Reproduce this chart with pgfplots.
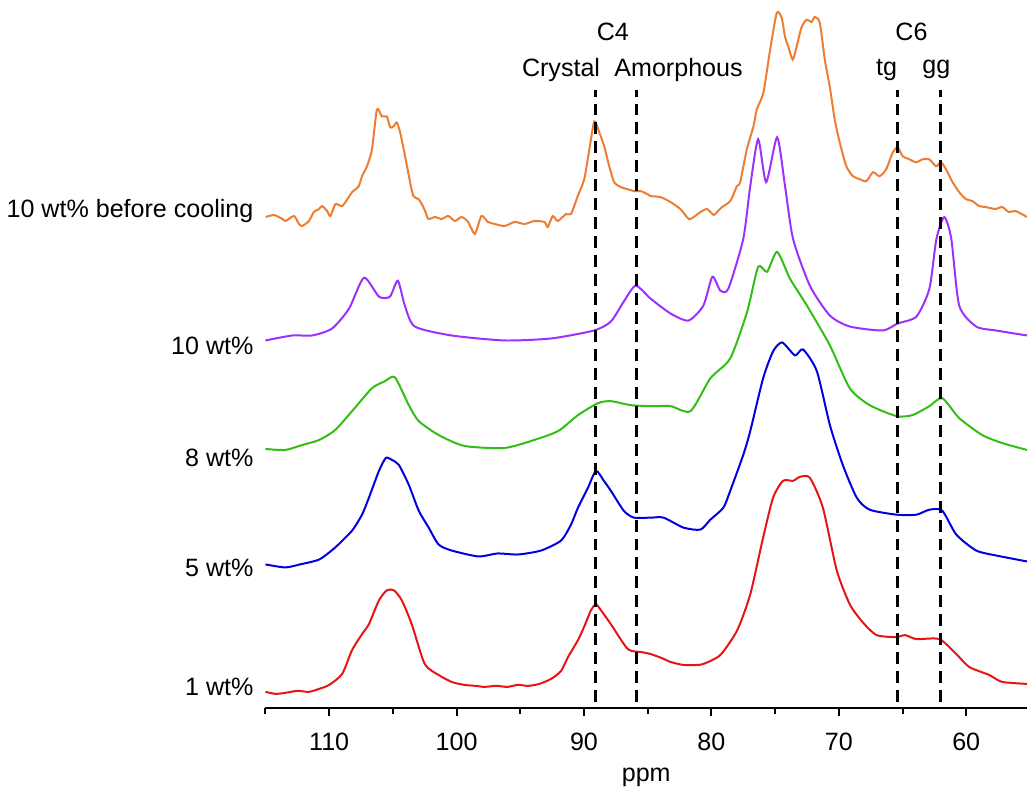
\documentclass[border=0pt]{standalone}
\usepackage{fontspec}
\setmainfont{Liberation Sans}
\usepackage{pgfplots}
\pgfplotsset{compat=1.18}

\definecolor{sorange}{RGB}{237,125,49}
\definecolor{spurple}{RGB}{155,48,255}
\definecolor{sgreen}{RGB}{50,190,20}
\definecolor{sblue}{RGB}{0,0,225}
\definecolor{sred}{RGB}{230,20,20}

\begin{document}
\begin{tikzpicture}[font=\fontsize{12.6}{15}\selectfont]
  \begin{axis}[
      scale only axis,
      width=382.5pt,height=355.5pt,
      x dir=reverse,
      xmin=55.23,xmax=115,
      ymin=78,ymax=789,
      axis x line*=bottom,
      axis y line=none,
      axis line style={line width=1pt},
      clip=false,
      xtick={60,70,...,110},
      minor xtick={65,75,...,115},
      tick align=outside,
      major tick length=4pt,
      minor tick length=3pt,
      every tick/.style={black,line width=1pt},
      xticklabel style={yshift=-5pt},
      /pgf/number format/assume math mode=true,
      xlabel={ppm},
      xlabel style={yshift=-2pt},
      every axis plot/.append style={line width=1pt,smooth,tension=0.4},
    ]
    % 1 wt%
    \addplot[sred] table {
115.00 94
114.2 92
113.44 93
112.5 95
111.6 94
110.78 97
110.00 101
108.98 112
108.20 136
107.42 152
106.88 162
106.09 186
105.47 196
104.92 196
104.30 186
103.52 162
102.50 122
101.41 111
100.39 104
99.4 101
98.5 100
97.81 99
96.9 100
96.0 99
95.2 101
94.38 100
93.5 102
92.58 107
91.80 115
91.25 129
90.47 146
90.00 159
89.45 176
89.06 182
88.67 176
87.89 162
86.56 137
85.5 134
84.77 132
83.9 128
83.20 124
82.19 121
81.2 121
80.63 122
79.30 131
77.97 156
76.95 192
75.94 249
75.16 289
74.38 306
73.59 306
73.05 310
72.27 309
71.25 279
70.16 216
69.14 182
68.13 164
67.03 151
65.47 149
64.8 151
63.91 147
62.11 147
60.78 132
59.77 119
58.20 111
57.19 104
55.23 102
    };
    % 5 wt%
    \addplot[sblue] table {
115.00 222
113.44 219
112.3 222
110.78 227
109.53 239
108.20 256
107.42 272
106.88 289
106.09 316
105.55 329
105.08 327
104.53 322
103.75 302
102.97 276
102.19 259
101.41 242
100.39 236
98.28 230
96.8 233
95.16 232
93.36 236
91.80 246
91.02 262
90.47 279
89.69 299
89.06 316
88.44 306
87.89 296
86.88 276
86.09 269
84.77 269
83.75 269
82.19 259
80.86 257
80.08 267
79.06 279
78.52 296
77.50 332
76.95 356
75.94 409
75.16 436
74.45 445
73.44 432
72.81 438
71.72 416
70.70 362
69.69 322
68.59 289
67.58 277
65.47 272
63.91 272
62.89 277
61.88 276
60.78 252
59.22 236
57.66 231
55.23 225
    };
    % 8 wt%
    \addplot[sgreen] table {
115.00 338
113.44 337
112.11 342
110.78 347
109.53 357
108.20 376
106.64 399
105.63 406
104.84 410
103.75 382
102.97 366
101.41 352
99.38 341
96.25 339
93.91 347
92.03 356
90.47 372
88.91 384
87.89 386
86.33 382
84.77 381
83.20 381
81.64 376
80.08 409
78.52 429
77.19 476
76.33 521
75.63 516
74.84 536
73.83 509
72.50 482
70.70 442
69.14 399
67.58 382
65.47 371
64.22 372
62.89 381
61.88 389
60.55 369
58.75 352
57.19 344
55.23 337
    };
    % 10 wt%
    \addplot[spurple] table {
115.00 447
112.89 452
111.33 452
109.77 459
108.44 479
107.27 510
106.09 491
105.23 491
104.61 507
104.06 482
103.28 461
100.39 452
96.25 447
92.58 449
89.22 457
87.89 466
86.88 486
85.94 502
84.77 489
83.20 474
81.80 467
80.63 482
79.92 511
79.30 497
78.67 499
77.50 549
76.95 602
76.33 649
75.70 606
74.84 651
74.22 602
73.59 549
72.27 502
70.70 472
69.14 461
66.56 457
65.39 464
63.91 471
62.89 499
62.34 549
61.72 571
61.17 549
60.55 482
59.22 461
57.66 457
55.23 452
    };
    % 10 wt% before cooling
    \addplot[sorange] table {
114.98 571
114.32 573
113.67 569
113.41 567
112.76 572
112.37 564
112.11 562
111.59 567
111.20 576
110.80 579
110.55 582
110.16 577
109.90 572
109.51 584
108.98 582
108.46 591
108.20 596
107.68 602
107.42 612
107.03 622
106.64 639
106.25 679
105.86 672
105.47 672
105.21 661
104.95 662
104.69 666
104.43 656
104.04 632
103.65 606
103.39 592
102.99 589
102.73 584
102.47 577
102.21 569
101.70 571
101.17 569
100.65 572
100.13 567
99.61 571
99.09 566
98.57 554
98.05 572
97.53 566
97.01 564
96.23 562
95.44 566
94.66 564
93.88 567
93.10 566
92.84 561
92.45 572
92.06 567
91.41 574
91.02 574
90.49 592
89.98 609
89.58 639
89.19 667
88.80 656
88.41 642
88.02 622
87.63 606
87.11 601
86.59 599
86.07 597
85.55 597
85.02 594
84.77 592
83.99 591
83.21 586
82.43 579
81.78 569
81.38 571
80.86 576
80.34 579
79.82 573
79.56 576
79.17 581
78.52 587
78.00 602
77.74 606
77.22 639
76.70 662
76.44 679
75.92 696
75.39 739
74.87 776
74.48 771
74.22 752
73.96 742
73.62 729
73.31 742
72.92 762
72.53 769
72.14 767
71.88 772
71.49 766
71.10 729
70.71 702
70.32 669
69.93 646
69.41 622
68.89 612
68.36 609
67.84 607
67.32 616
66.80 612
66.28 619
65.76 636
65.37 641
64.98 632
64.46 629
63.94 626
63.42 629
62.90 629
62.37 622
61.98 626
61.59 619
61.07 606
60.55 596
60.03 589
59.51 587
58.99 582
58.47 581
57.69 579
57.17 581
56.65 576
56.12 577
55.24 571
    };
    % keep the empty band above the top peak
    \draw[draw=none] (axis cs:85,789) -- (axis cs:85,780);
    % reference lines
    \draw[line width=1.3pt,dash pattern=on 6pt off 3.5pt] (axis cs:89.1,84) -- (axis cs:89.1,699);
    \draw[line width=1.3pt,dash pattern=on 6pt off 3.5pt] (axis cs:85.9,84) -- (axis cs:85.9,699);
    \draw[line width=1.3pt,dash pattern=on 6pt off 3.5pt] (axis cs:65.4,84) -- (axis cs:65.4,699);
    \draw[line width=1.3pt,dash pattern=on 6pt off 3.5pt] (axis cs:62.0,84) -- (axis cs:62.0,699);
    \node at (axis cs:87.73,757) {C4};
    \node at (axis cs:91.8,719) {Crystal};
    \node at (axis cs:82.58,719) {Amorphous};
    \node at (axis cs:64.3,757) {C6};
    \node at (axis cs:66.25,719) {tg};
    \node at (axis cs:62.34,719) {gg};
    \node[anchor=east] at (axis cs:115.39,577) {10 wt\% before cooling};
    \node[anchor=east] at (axis cs:115.39,442) {10 wt\%};
    \node[anchor=east] at (axis cs:115.39,329) {8 wt\%};
    \node[anchor=east] at (axis cs:115.39,219) {5 wt\%};
    \node[anchor=east] at (axis cs:115.39,99) {1 wt\%};
  \end{axis}
\end{tikzpicture}
\end{document}
